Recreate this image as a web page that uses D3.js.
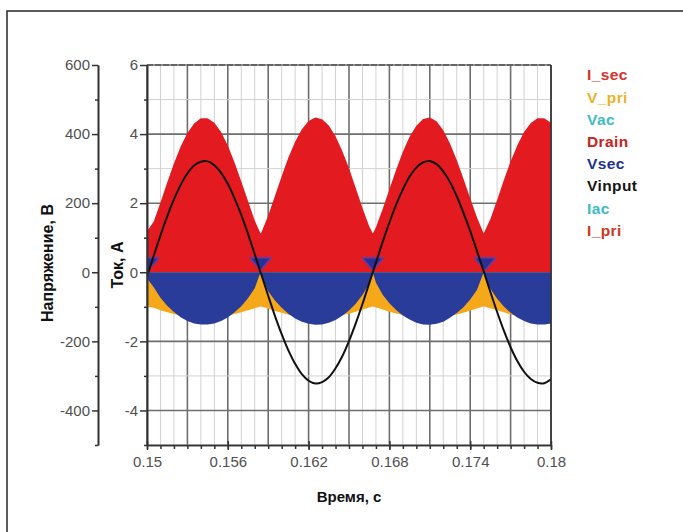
<!DOCTYPE html>
<html><head><meta charset="utf-8">
<script src="https://cdn.jsdelivr.net/npm/d3@7"></script>
<style>
html,body{margin:0;padding:0;background:#fff;}
svg{display:block;font-family:"Liberation Sans",Arial,sans-serif;}
</style></head>
<body>
<svg id="chart" width="683" height="532"></svg>
<script>
// ---- data (time in s, currents in A, voltages in V) ----
const time = [
0.1500,0.1505,0.1510,0.1515,0.1520,0.1525,0.1530,0.1535,0.1540,0.1545,
0.1550,0.1555,0.1560,0.1565,0.1570,0.1575,0.1580,0.15843,0.1585,0.1590,
0.1595,0.1600,0.1605,0.1610,0.1615,0.1620,0.1625,0.1630,0.1635,0.1640,
0.1645,0.1650,0.1655,0.1660,0.1665,0.16677,0.1670,0.1675,0.1680,0.1685,
0.1690,0.1695,0.1700,0.1705,0.1710,0.1715,0.1720,0.1725,0.1730,0.1735,
0.1740,0.1745,0.1750,0.1755,0.1760,0.1765,0.1770,0.1775,0.1780,0.1785,
0.1790,0.1795,0.1800];
const vinput = [
-12,48,107,162,211,253,286,309,320,321,
310,288,256,214,166,111,52,0,-8,-68,
-126,-179,-226,-265,-295,-314,-322,-318,-304,-278,
-243,-199,-148,-92,-32,0,28,88,144,196,
240,277,303,318,322,313,292,261,220,172,
119,62,3,-57,-115,-169,-217,-257,-288,-309,
-320,-321,-310];
const iSecTop = [
1.19,1.47,2.02,2.60,3.15,3.64,4.03,4.31,4.46,4.46,
4.33,4.06,3.67,3.18,2.63,2.06,1.50,1.12,1.16,1.64,
2.21,2.78,3.32,3.78,4.14,4.38,4.48,4.43,4.25,3.94,
3.51,3.01,2.44,1.86,1.33,1.12,1.30,1.83,2.40,2.97,
3.49,3.92,4.24,4.44,4.48,4.37,4.11,3.73,3.25,2.71,
2.14,1.59,1.12,1.54,2.09,2.67,3.21,3.68,4.06,4.32,
4.46,4.46,4.33];
const vsecMin = [
-0.17,-0.43,-0.74,-0.97,-1.15,-1.30,-1.41,-1.48,-1.51,-1.51,
-1.48,-1.41,-1.31,-1.16,-0.98,-0.75,-0.46,0,-0.13,-0.55,
-0.82,-1.03,-1.20,-1.34,-1.43,-1.49,-1.52,-1.51,-1.46,-1.38,
-1.26,-1.11,-0.91,-0.66,-0.33,0,-0.30,-0.65,-0.90,-1.09,
-1.25,-1.37,-1.46,-1.51,-1.52,-1.49,-1.43,-1.32,-1.18,-1.01,
-0.79,-0.51,0,-0.48,-0.77,-0.99,-1.17,-1.31,-1.41,-1.48,
-1.51,-1.51,-1.48];
const vpriMin = [
-0.99,-1.03,-1.10,-1.16,-1.21,-1.26,-1.29,-1.32,-1.33,-1.33,
-1.32,-1.29,-1.26,-1.21,-1.16,-1.10,-1.04,-0.98,-0.99,-1.05,
-1.12,-1.17,-1.23,-1.27,-1.30,-1.32,-1.33,-1.33,-1.31,-1.28,
-1.24,-1.20,-1.14,-1.08,-1.02,-0.98,-1.01,-1.08,-1.14,-1.19,
-1.24,-1.28,-1.31,-1.33,-1.33,-1.32,-1.30,-1.26,-1.22,-1.17,
-1.11,-1.05,-0.98,-1.04,-1.10,-1.16,-1.22,-1.26,-1.29,-1.32,
-1.33,-1.33,-1.32];
const pulseTimes = [0.1501, 0.15843, 0.16677, 0.1751];
const pulseAmp = 0.42;        // A
const pulseHalfWidth = 0.0008; // s
const xTicks = [0.15, 0.156, 0.162, 0.168, 0.174, 0.18];
const xTickLabels = ["0.15","0.156","0.162","0.168","0.174","0.18"];
const iTicks = [-4, -2, 0, 2, 4, 6];
const vTicks = [-400, -200, 0, 200, 400, 600];
const legendNames = ["I_sec","V_pri","Vac","Drain","Vsec","Vinput","Iac","I_pri"];
const legendColors = ["#d8322c","#f0b02a","#3fbcc4","#c8231c","#22308e","#151515","#3cbcc0","#d0361f"];

// ---- layout ----
const svg = d3.select("#chart");
const L = 147, R = 551, T = 65, B = 445;
const x = d3.scaleLinear().domain([0.15, 0.18]).range([L, R]);
const yI = d3.scaleLinear().domain([-5, 6]).range([B, T]);
const yV = d3.scaleLinear().domain([-500, 600]).range([B, T]);

// outer frame
svg.append("rect").attr("x",7).attr("y",11).attr("width",700).attr("height",560)
  .attr("fill","none").attr("stroke","#333").attr("stroke-width",1.6);

// grid
const g = svg.append("g");
const xMinor = d3.range(0, 31).map(i => 0.15 + i*0.001);
const yMinor = d3.range(-5, 7);
g.selectAll(".vx").data(xMinor).join("line")
  .attr("x1", d => x(d)).attr("x2", d => x(d)).attr("y1", T).attr("y2", B)
  .attr("stroke", (d,i) => i % 3 === 0 ? "#6e6e6e" : "#d2d2d2")
  .attr("stroke-width", (d,i) => i % 3 === 0 ? 1.6 : 1);
g.selectAll(".hy").data(yMinor).join("line")
  .attr("x1", L).attr("x2", R).attr("y1", d => yI(d)).attr("y2", d => yI(d))
  .attr("stroke", d => d % 2 === 0 ? "#6e6e6e" : "#d2d2d2")
  .attr("stroke-width", d => d % 2 === 0 ? 1.6 : 1);

// clip
svg.append("clipPath").attr("id","clip").append("rect")
  .attr("x", L).attr("y", T).attr("width", R-L).attr("height", B-T);
const plot = svg.append("g").attr("clip-path","url(#clip)");

const idx = d3.range(time.length);
// red area
plot.append("path")
  .attr("d", d3.area().x(i => x(time[i])).y0(yI(0)).y1(i => yI(iSecTop[i]))(idx))
  .attr("fill", "#e31a1f");
// orange area
plot.append("path")
  .attr("d", d3.area().x(i => x(time[i])).y0(yI(0)).y1(i => yI(vpriMin[i]))(idx))
  .attr("fill", "#f5a81a");
// blue area
plot.append("path")
  .attr("d", d3.area().x(i => x(time[i])).y0(yI(0)).y1(i => yI(vsecMin[i]))(idx))
  .attr("fill", "#2a3c9a");
// small positive Vsec pulses
const tri = d3.line().x(p => x(p[0])).y(p => yI(p[1]));
plot.selectAll(".pulse").data(pulseTimes).join("path")
  .attr("d", c => tri([[c - pulseHalfWidth, pulseAmp], [c + pulseHalfWidth, pulseAmp], [c, 0.05]]) + "Z")
  .attr("fill", "#2a2f94").attr("stroke", "#6a3a9e").attr("stroke-width", 1.6)
  .attr("stroke-linejoin","round");
// Vinput line
plot.append("path")
  .attr("d", d3.line().x(i => x(time[i])).y(i => yV(vinput[i])).curve(d3.curveCatmullRom)(idx))
  .attr("fill","none").attr("stroke","#111").attr("stroke-width",2);

// frame top dashed and right
svg.append("line").attr("x1",L).attr("x2",R).attr("y1",T).attr("y2",T)
  .attr("stroke","#555").attr("stroke-width",1.6).attr("stroke-dasharray","6,2");
svg.append("line").attr("x1",R).attr("x2",R).attr("y1",T).attr("y2",B)
  .attr("stroke","#333").attr("stroke-width",1.6);

// axes
function styleAxis(sel){
  sel.selectAll(".domain").attr("stroke","#333").attr("stroke-width",1.6);
  sel.selectAll(".tick line").attr("stroke","#333").attr("stroke-width",1.5);
  sel.selectAll(".tick text").attr("fill","#505050").style("font-size","15px")
     .style("font-family",'"Liberation Sans",Arial,sans-serif');
}
const fmt = d => String(d);
// current axis
const aI = svg.append("g").attr("transform",`translate(${L},0)`)
  .call(d3.axisLeft(yI).tickValues(iTicks).tickSize(7).tickPadding(2).tickSizeOuter(0).tickFormat(fmt));
styleAxis(aI);
const aIm = svg.append("g").attr("transform",`translate(${L},0)`)
  .call(d3.axisLeft(yI).tickValues([-5,-3,-1,1,3,5]).tickSize(3).tickFormat("").tickSizeOuter(0));
styleAxis(aIm);
// voltage axis
const aV = svg.append("g").attr("transform",`translate(98,0)`)
  .call(d3.axisLeft(yV).tickValues(vTicks).tickSize(6).tickPadding(2).tickSizeOuter(0).tickFormat(fmt));
styleAxis(aV);
const aVm = svg.append("g").attr("transform",`translate(98,0)`)
  .call(d3.axisLeft(yV).tickValues([-500,-300,-100,100,300,500]).tickSize(3).tickFormat("").tickSizeOuter(0));
styleAxis(aVm);
// x axis
const aX = svg.append("g").attr("transform",`translate(0,${B})`)
  .call(d3.axisBottom(x).tickValues(xTicks).tickSize(5).tickPadding(6).tickSizeOuter(0)
    .tickFormat((d,i) => xTickLabels[i]));
styleAxis(aX);
aX.selectAll(".tick line").attr("y1",-4);
const aXm = svg.append("g").attr("transform",`translate(0,${B})`)
  .call(d3.axisBottom(x).tickValues(xMinor).tickSize(4).tickFormat("").tickSizeOuter(0));
styleAxis(aXm);

// axis titles
svg.append("text").attr("x",349).attr("y",502).attr("text-anchor","middle")
  .style("font-size","15px").style("font-weight","bold").attr("fill","#111").text("Время, с");
svg.append("text").attr("transform","translate(123,265) rotate(-90)").attr("text-anchor","middle")
  .style("font-size","16px").style("font-weight","bold").attr("fill","#111").text("Ток, А");
svg.append("text").attr("transform","translate(53,263) rotate(-90)").attr("text-anchor","middle")
  .style("font-size","16px").style("font-weight","bold").attr("fill","#111").text("Напряжение, В");

// legend
svg.selectAll(".leg").data(legendNames).join("text")
  .attr("x",587).attr("y",(d,i) => 75 + i*22.2).attr("dy","0.35em")
  .style("font-size","15.5px").style("font-weight","bold").style("letter-spacing","0.4px")
  .attr("fill",(d,i) => legendColors[i]).text(d => d);
</script>
</body></html>
